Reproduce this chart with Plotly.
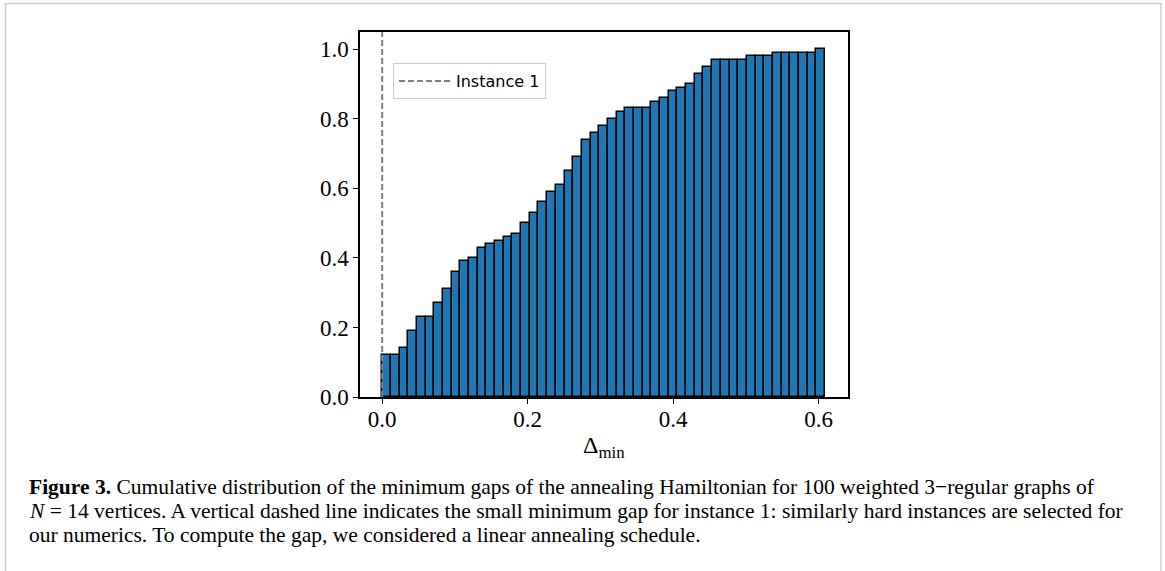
import plotly.graph_objects as go

# ---- data ----
bin_start = 0.0
bin_width = 0.01194
cum_fraction = [0.12, 0.12, 0.14, 0.19, 0.23, 0.23, 0.27, 0.31, 0.36, 0.39,
                0.40, 0.43, 0.44, 0.45, 0.46, 0.47, 0.50, 0.53, 0.56, 0.59,
                0.61, 0.65, 0.69, 0.74, 0.76, 0.78, 0.80, 0.82, 0.83, 0.83,
                0.83, 0.85, 0.86, 0.88, 0.89, 0.90, 0.93, 0.95, 0.97, 0.97,
                0.97, 0.97, 0.98, 0.98, 0.98, 0.99, 0.99, 0.99, 0.99, 0.99,
                1.00]
instance1_gap = 0.0
x_ticks = [0.0, 0.2, 0.4, 0.6]
x_ticklabels = ["0.0", "0.2", "0.4", "0.6"]
y_ticks = [0.0, 0.2, 0.4, 0.6, 0.8, 1.0]
y_ticklabels = ["0.0", "0.2", "0.4", "0.6", "0.8", "1.0"]
caption_lines = [
    "<b>Figure 3.</b> Cumulative distribution of the minimum gaps of the annealing Hamiltonian for 100 weighted 3\u2212regular graphs of",
    "<i>N</i> = 14 vertices. A vertical dashed line indicates the small minimum gap for instance 1: similarly hard instances are selected for",
    "our numerics. To compute the gap, we considered a linear annealing schedule.",
]

# ---- layout geometry ----
W, H = 1165, 571
ml, mr, mt, mb = 360, 317, 32, 174
pw, ph = W - ml - mr, H - mt - mb


def px(x):
    return (x - ml) / pw


def py(y):
    return 1 - (y - mt) / ph


centers = [bin_start + (i + 0.5) * bin_width for i in range(len(cum_fraction))]

fig = go.Figure()
fig.add_trace(go.Bar(
    x=centers, y=cum_fraction, width=bin_width,
    marker=dict(color="#1f77b4", line=dict(color="black", width=1.5)),
    showlegend=False,
))
fig.add_trace(go.Scatter(
    x=[instance1_gap, instance1_gap], y=[0, 1.05], mode="lines",
    line=dict(color="#808080", width=2, dash="6px,3px"),
    name="Instance 1",
))

serif = "Liberation Serif, Times New Roman, serif"

fig.update_layout(
    width=W, height=H,
    margin=dict(l=ml, r=mr, t=mt, b=mb),
    paper_bgcolor="white", plot_bgcolor="white",
    bargap=0,
    xaxis=dict(
        range=[-0.0305, 0.6405], tickvals=x_ticks, ticktext=x_ticklabels,
        showgrid=False, zeroline=False, showline=True, mirror=True,
        linecolor="black", linewidth=1.5, ticks="outside", ticklen=5,
        tickwidth=1.3, tickcolor="black", ticklabelstandoff=-4,
        tickfont=dict(family=serif, size=23, color="black"),
    ),
    yaxis=dict(
        range=[0, 1.05], tickvals=y_ticks, ticktext=y_ticklabels,
        showgrid=False, zeroline=False, showline=True, mirror=True,
        linecolor="black", linewidth=1.5, ticks="outside", ticklen=5,
        tickwidth=1.3, tickcolor="black",
        tickfont=dict(family=serif, size=23, color="black"),
    ),
    legend=dict(
        x=px(393), y=py(63), xanchor="left", yanchor="top",
        bgcolor="rgba(255,255,255,0.8)", bordercolor="#cccccc", borderwidth=1,
        font=dict(family="DejaVu Sans", size=16, color="black"),
        itemwidth=52,
    ),
    showlegend=True,
)

annotations = [dict(
    x=px(604), y=py(447), xref="paper", yref="paper",
    text="\u0394<sub>min</sub>", showarrow=False,
    xanchor="center", yanchor="middle",
    font=dict(family=serif, size=24, color="black"),
)]
for i, line in enumerate(caption_lines):
    annotations.append(dict(
        x=px(27), y=py(487 + 23.8 * i), xref="paper", yref="paper",
        text=line, showarrow=False, xanchor="left", yanchor="middle",
        font=dict(family=serif, size=21.5, color="black"),
    ))
fig.update_layout(annotations=annotations)

# figure frame
fig.add_shape(type="rect", xref="paper", yref="paper",
              x0=px(5.5), x1=px(1161), y0=py(575), y1=py(3.5),
              line=dict(color="#cfcfcf", width=1.5), layer="below")

fig.write_html("out.html")
